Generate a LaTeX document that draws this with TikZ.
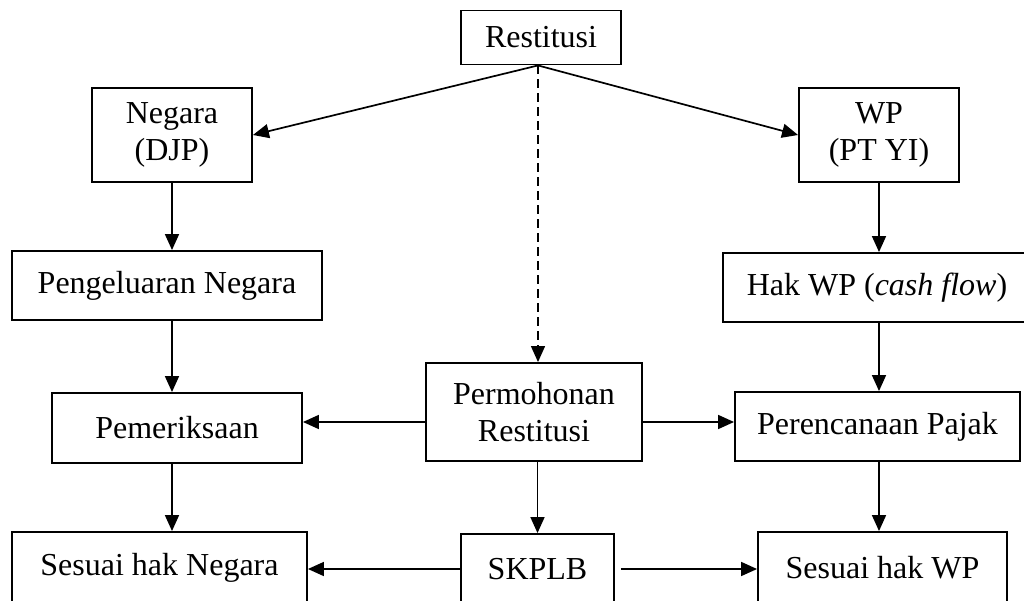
\documentclass[tikz,border=0pt]{standalone}
\usepackage{fontspec}
\setmainfont{Liberation Serif}
\usetikzlibrary{arrows.meta}
\begin{document}
\begin{tikzpicture}[x=1pt,y=-1pt,
  box/.style={draw, line width=1.9pt, inner sep=0pt, align=center,
    font=\fontsize{32}{37}\selectfont},
  arr/.style={-{Triangle[length=16pt,width=14pt]}, line width=1.7pt},
  darr/.style={-{Triangle[length=16pt,width=14pt]}, line width=1.3pt, dash pattern=on 9pt off 5pt}]
\useasboundingbox (0,0) rectangle (1024,601);
\clip (0,0) rectangle (1024,601);
% nodes
\node[box, minimum width=160pt, minimum height=54pt] (restitusi) at (541,37.5) {Restitusi};
\node[box, minimum width=160pt, minimum height=94pt] (negara) at (172,135) {Negara\\(DJP)};
\node[box, minimum width=160pt, minimum height=94pt] (wp) at (879,135) {WP\\(PT YI)};
\node[box, minimum width=310pt, minimum height=69pt] (peng) at (167,285.5) {Pengeluaran Negara};
\node[box, minimum width=308pt, minimum height=69pt] (hakwp) at (877,287.5) {Hak WP (\textit{cash flow})};
\node[box, minimum width=250pt, minimum height=70pt] (pem) at (177,428) {Pemeriksaan};
\node[box, minimum width=216pt, minimum height=98pt] (perm) at (534,412) {Permohonan\\Restitusi};
\node[box, minimum width=285pt, minimum height=69pt] (per) at (877.5,426.5) {Perencanaan Pajak};
\node[box, minimum width=295pt, minimum height=72pt] (sn) at (159.5,568) {Sesuai hak Negara};
\node[box, minimum width=153pt, minimum height=70pt] (skplb) at (537.5,569) {SKPLB};
\node[box, minimum width=249pt, minimum height=72pt] (swp) at (882.5,568) {Sesuai hak WP};
% connectors
\coordinate (rs) at ([xshift=-3pt]restitusi.south);
\draw[arr] (rs) -- (negara.east);
\draw[arr] (rs) -- (wp.west);
\draw[darr] (rs) -- (rs |- perm.north);
\draw[arr] (negara.south) -- (negara.south |- peng.north);
\draw[arr] (peng.south -| negara.south) -- (pem.north -| negara.south);
\draw[arr] (pem.south -| negara.south) -- (sn.north -| negara.south);
\draw[arr] (wp.south) -- (wp.south |- hakwp.north);
\draw[arr] (hakwp.south -| wp.south) -- (per.north -| wp.south);
\draw[arr] (per.south -| wp.south) -- (swp.north -| wp.south);
\coordinate (pw) at ([yshift=-10pt]perm.west);
\coordinate (pe) at ([yshift=-10pt]perm.east);
\draw[arr] (pw) -- (pw -| pem.east);
\draw[arr] (pe) -- (pe -| per.west);
\draw[arr] (perm.south -| skplb.north) -- (skplb.north);
\draw[arr] (skplb.west) -- (skplb.west -| sn.east);
\coordinate (se) at ([xshift=6pt]skplb.east);
\draw[arr] (se) -- (se -| swp.west);
\end{tikzpicture}
\end{document}
